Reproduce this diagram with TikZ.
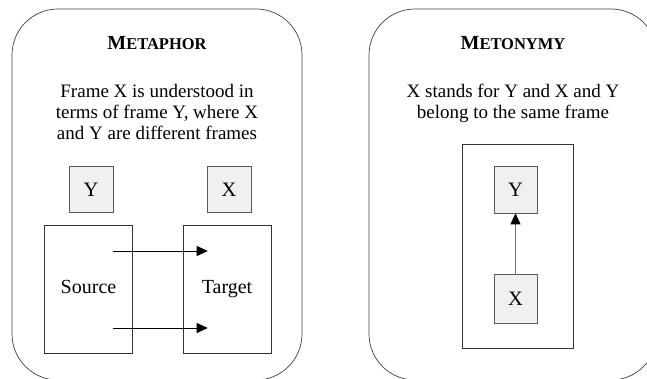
\documentclass[tikz,border=0pt]{standalone}
\usepackage{fontspec}
\setmainfont{Liberation Serif}
\usetikzlibrary{arrows.meta,positioning}
% bold title with faked small capitals
\newcommand{\headline}[2]{{\bfseries\fontsize{20}{20}\selectfont #1\fontsize{16.5}{16.5}\selectfont #2}}

\begin{document}
\begin{tikzpicture}[x=1pt, y=1pt,
    node distance=12pt,
    panel/.style={draw=black!75, line width=0.7pt, rounded corners=46pt,
                  minimum width=290pt, minimum height=371pt, inner sep=0pt},
    headtxt/.style={anchor=base, inner sep=0pt},
    desc/.style={anchor=north, align=center, inner sep=0pt,
                 font=\fontsize{19}{21}\selectfont},
    letter/.style={draw=black!65, fill=black!6, line width=0.6pt,
                   minimum width=44pt, minimum height=46pt,
                   font=\fontsize{20.5}{20.5}\selectfont},
    framebox/.style={draw=black!80, line width=0.6pt, minimum width=88pt,
                     minimum height=128pt, text height=13pt, text depth=4pt,
                     font=\fontsize{20}{20}\selectfont},
    arr/.style={-{Triangle[length=11pt, width=10pt, black]}, line width=0.6pt}
  ]
  \clip (0,0) rectangle (647,379);

  % metaphor
  \node[panel] (metaphor) at (157,184.5) {};
  \node[headtxt] (t1) at (157,329) {\headline{M}{ETAPHOR}};
  \node[desc] (d1) at (157,295) {Frame X is understood in\\terms of frame Y, where X\\and Y are different frames};
  \node[framebox] (src) at (88.5,90) {Source};
  \node[framebox] (tgt) at (227,90) {Target};
  \node[letter, above=of src, xshift=2.5pt] (yl) {Y};
  \node[letter, above=of tgt, xshift=2pt] (xl) {X};
  \coordinate (a1) at ([shift={(-20,38)}]src.east);
  \coordinate (b1) at ([shift={(25,38)}]tgt.west);
  \coordinate (a2) at ([shift={(-20,-39)}]src.east);
  \coordinate (b2) at ([shift={(25,-39)}]tgt.west);
  \draw[arr] (a1) -- (b1);
  \draw[arr] (a2) -- (b2);

  % metonymy
  \node[panel, minimum width=288pt] (metonymy) at (513,184.5) {};
  \node[headtxt] (t2) at (513,329) {\headline{M}{ETONYMY}};
  \node[desc] (d2) at (513,295) {X stands for Y and X and Y\\belong to the same frame};
  \node[framebox, minimum width=111pt, minimum height=204pt] (frm) at (517.5,133) {};
  \node[letter, minimum width=43pt, minimum height=47pt] (yr) at (515.5,189.5) {Y};
  \node[letter, minimum width=43pt, minimum height=49pt, below=61pt of yr] (xr) {X};
  \draw[arr, draw=black!55] (xr) -- (yr);
\end{tikzpicture}
\end{document}
